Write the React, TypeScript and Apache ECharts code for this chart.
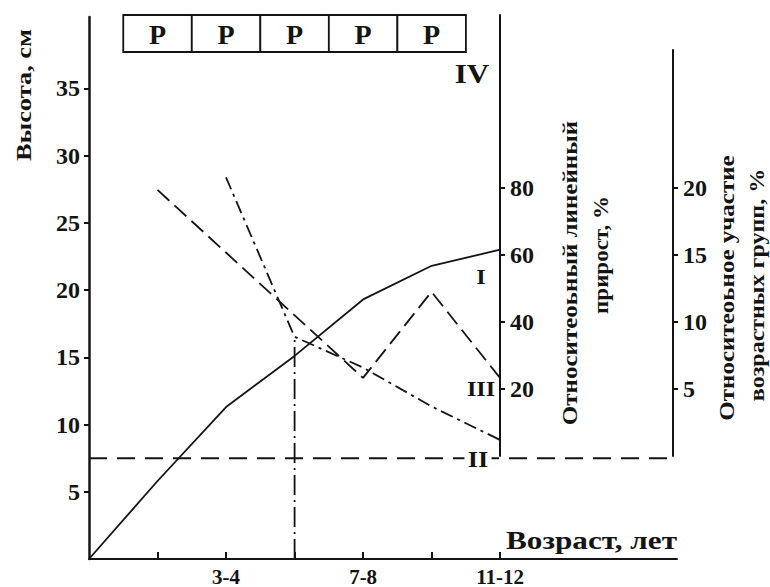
import React, { useEffect, useRef } from "react";
import * as echarts from "echarts";

// ---- data ----
const ageTickValues = [1, 2, 3, 4, 5, 6];
const ageLabelValues = [2, 4, 6];
const ageLabels = ["3-4", "7-8", "11-12"];

const heightTicks = [5, 10, 15, 20, 25, 30, 35];
const growthTicks = [20, 40, 60, 80];
const shareTicks = [5, 10, 15, 20];

// I – height, cm (left axis)
const heightX = [0, 1, 2, 3, 4, 5, 6];
const heightY = [0, 5.8, 11.3, 15.1, 19.3, 21.8, 23.0];

// III – relative linear increase, % (middle axis)
const growthX = [1, 4, 5, 6];
const growthY = [79.4, 23.3, 49.0, 23.3];

// IV – relative share of age groups, % (right axis)
const shareX = [2, 3, 4, 5, 6];
const shareY = [20.8, 8.9, 6.6, 3.7, 1.2];

// II – constant level (left axis)
const levelII = 7.5;
const levelEnd = 8.52;

// vertical marker
const markerAge = 3;
const markerTop = 16.4;

// top boxes
const periodX = [1, 2, 3, 4, 5];
const periodLabels = ["P", "P", "P", "P", "P"];

const INK = "#141414";
const FONT = "Liberation Serif";

export default function App() {
  const ref = useRef<HTMLDivElement>(null);
  useEffect(() => {
    if (!ref.current) return;
    const chart = echarts.init(ref.current, null, { renderer: "svg" });
    const tickLabel = {
      color: INK,
      fontFamily: FONT,
      fontWeight: "bold",
      fontSize: 24,
    };
    const rotText = (x: number, y: number, text: string, size: number, sx: number) => ({
      type: "text",
      x,
      y,
      rotation: Math.PI / 2,
      scaleX: sx,
      style: {
        text,
        fill: INK,
        font: `bold ${size}px "${FONT}"`,
        textAlign: "center",
        textVerticalAlign: "middle",
      },
    });
    const plainText = (x: number, y: number, text: string, size: number, align = "center", sx = 1, bg = false) => ({
      type: "text",
      x,
      y,
      scaleX: sx,
      z: 50,
      style: {
        text,
        fill: INK,
        font: `bold ${size}px "${FONT}"`,
        textAlign: align,
        textVerticalAlign: "middle",
        backgroundColor: bg ? "#fff" : undefined,
        padding: bg ? [0, 3] : undefined,
      },
    });

    chart.setOption({
      animation: false,
      backgroundColor: "#fff",
      grid: [
        { left: 89, top: 17, width: 588, height: 544 },
        { left: 89, top: 15, width: 411, height: 441 },
        { left: 89, top: 50, width: 584, height: 406 },
      ],
      xAxis: [
        {
          gridIndex: 0,
          type: "value",
          min: 0,
          max: 8.58,
          axisLine: { show: true, onZero: false, lineStyle: { color: INK, width: 2 } },
          axisTick: { show: true, inside: true, length: 7, customValues: ageTickValues, lineStyle: { color: INK, width: 2 } },
          axisLabel: {
            ...tickLabel,
            fontSize: 21,
            margin: 7,
            customValues: ageLabelValues,
            formatter: (v: number) => ageLabels[ageLabelValues.indexOf(v)] ?? "",
          },
          splitLine: { show: false },
        },
        { gridIndex: 1, type: "value", min: 0, max: 6, show: false },
        { gridIndex: 2, type: "value", min: 0, max: 8.526, show: false },
      ],
      yAxis: [
        {
          gridIndex: 0,
          type: "value",
          min: 0,
          max: 40.3,
          interval: 5,
          axisLine: { show: true, onZero: false, lineStyle: { color: INK, width: 2.5 } },
          axisTick: { show: true, length: 5, customValues: heightTicks, lineStyle: { color: INK, width: 2 } },
          axisLabel: { ...tickLabel, margin: 9, customValues: heightTicks },
          splitLine: { show: false },
        },
        {
          gridIndex: 1,
          type: "value",
          position: "right",
          min: 0,
          max: 131.6,
          interval: 20,
          axisLine: { show: true, onZero: false, lineStyle: { color: INK, width: 2 } },
          axisTick: { show: true, length: 5, customValues: growthTicks, lineStyle: { color: INK, width: 2 } },
          axisLabel: { ...tickLabel, margin: 10, customValues: growthTicks },
          splitLine: { show: false },
        },
        {
          gridIndex: 2,
          type: "value",
          position: "right",
          min: 0,
          max: 30.3,
          interval: 5,
          axisLine: { show: true, onZero: false, lineStyle: { color: INK, width: 2 } },
          axisTick: { show: true, length: 5, customValues: shareTicks, lineStyle: { color: INK, width: 2 } },
          axisLabel: { ...tickLabel, margin: 10, customValues: shareTicks },
          splitLine: { show: false },
        },
      ],
      series: [
        {
          name: "I",
          type: "line",
          xAxisIndex: 0,
          yAxisIndex: 0,
          symbol: "none",
          lineStyle: { color: INK, width: 1.8 },
          data: heightX.map((x, i) => [x, heightY[i]]),
        },
        {
          name: "II",
          type: "line",
          xAxisIndex: 0,
          yAxisIndex: 0,
          symbol: "none",
          lineStyle: { color: INK, width: 2, type: [18, 10] },
          data: [
            [0, levelII],
            [levelEnd, levelII],
          ],
        },
        {
          name: "marker",
          type: "line",
          xAxisIndex: 0,
          yAxisIndex: 0,
          symbol: "none",
          lineStyle: { color: INK, width: 1.8, type: [20, 5, 2, 5] },
          data: [
            [markerAge, 0],
            [markerAge, markerTop],
          ],
        },
        {
          name: "III",
          type: "line",
          xAxisIndex: 1,
          yAxisIndex: 1,
          symbol: "none",
          lineStyle: { color: INK, width: 1.8, type: [16, 7] },
          data: growthX.map((x, i) => [x, growthY[i]]),
        },
        {
          name: "IV",
          type: "line",
          xAxisIndex: 2,
          yAxisIndex: 2,
          symbol: "none",
          lineStyle: { color: INK, width: 1.8, type: [13, 5, 3, 5] },
          data: shareX.map((x, i) => [x, shareY[i]]),
        },
        {
          name: "periods",
          type: "custom",
          xAxisIndex: 0,
          yAxisIndex: 0,
          data: periodX.map((x, i) => [x, i]),
          renderItem: (params: any, api: any) => {
            const x = api.value(0);
            const idx = api.value(1);
            const l = api.coord([x - 0.5, 0])[0];
            const r = api.coord([x + 0.5, 0])[0];
            return {
              type: "group",
              children: [
                {
                  type: "rect",
                  shape: { x: l, y: 15, width: r - l, height: 37 },
                  style: { fill: "#fff", stroke: INK, lineWidth: 1.8 },
                },
                {
                  type: "text",
                  x: (l + r) / 2,
                  y: 34,
                  style: {
                    text: periodLabels[idx],
                    fill: INK,
                    font: `bold 28px "${FONT}"`,
                    textAlign: "center",
                    textVerticalAlign: "middle",
                  },
                },
              ],
            };
          },
        },
      ],
      graphic: [
        rotText(23, 95, "Высота, см", 22, 1.2),
        rotText(570, 273, "Относитеоьный линейный", 20, 1.25),
        rotText(602, 255, "прирост, %", 20, 1.15),
        rotText(727, 288, "Относитеоьное участие", 20, 1.25),
        rotText(757, 285, "возрастных групп, %", 20, 1.2),
        plainText(677, 540, "Возраст, лет", 26, "right", 1.2),
        plainText(472, 74, "IV", 27, "center", 1.15),
        plainText(481, 276, "I", 22, "center", 1.1),
        plainText(481, 388, "III", 22, "center", 1.1),
        plainText(478, 459, "II", 24, "center", 1.1, true),
      ],
    });
    return () => chart.dispose();
  }, []);
  return (
    <div
      ref={ref}
      style={{ position: "fixed", left: 0, top: 0, width: 770, height: 587, background: "#fff" }}
    />
  );
}
